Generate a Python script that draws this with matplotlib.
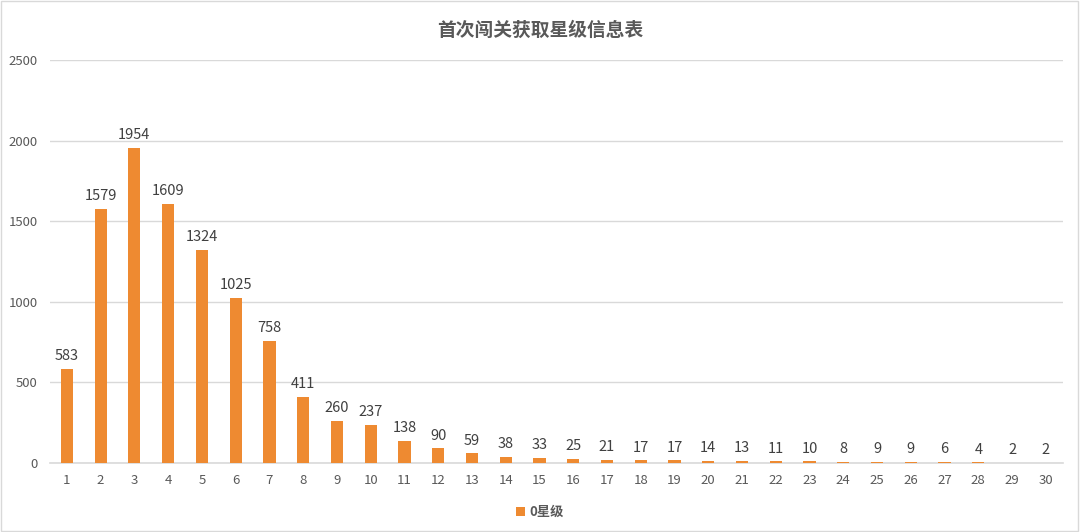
import matplotlib.pyplot as plt
import numpy as np

plt.rcParams['font.family'] = ['Noto Sans CJK SC', 'DejaVu Sans']

levels = [str(i) for i in range(1, 31)]
counts = [583, 1579, 1954, 1609, 1324, 1025, 758, 411, 260, 237, 138, 90, 59, 38, 33,
          25, 21, 17, 17, 14, 13, 11, 10, 8, 9, 9, 6, 4, 2, 2]
series_name = '0星级'
title = '首次闯关获取星级信息表'

fig = plt.figure(figsize=(10.8, 5.32), dpi=100)
ax = fig.add_axes([0.0463, 0.1297, 0.9377, 0.7573])

x = np.arange(len(levels))
bars = ax.bar(x, counts, width=0.36, color='#EE8A31', label=series_name, zorder=3)

for xi, v in zip(x, counts):
    ax.text(xi, v + 35, str(v), ha='center', va='bottom', fontsize=10.5, color='#404040')

ax.set_xlim(-0.5, len(levels) - 0.5)
ax.set_ylim(0, 2500)
ax.set_yticks(range(0, 2501, 500))
ax.set_xticks(x)
ax.set_xticklabels(levels)
ax.tick_params(axis='both', length=0, labelsize=9.5, colors='#595959')
ax.tick_params(axis='x', pad=8)
ax.tick_params(axis='y', pad=9)
ax.yaxis.grid(True, color='#D9D9D9', linewidth=1, zorder=0)
for s in ['top', 'right', 'left']:
    ax.spines[s].set_visible(False)
ax.spines['bottom'].set_color('#D9D9D9')
ax.spines['bottom'].set_linewidth(1.2)

fig.text(0.5, 0.943, title, ha='center', va='center', fontsize=13.5,
         fontweight='bold', color='#595959')

leg = fig.legend(handles=[bars], labels=[series_name], loc='center',
                 bbox_to_anchor=(0.5, 0.038), frameon=False, fontsize=9.5,
                 handlelength=0.7, handleheight=0.7, handletextpad=0.3)
for t in leg.get_texts():
    t.set_color('#595959')
    t.set_fontweight('bold')

fig.add_artist(plt.Rectangle((0.001, 0.001), 0.997, 0.997, transform=fig.transFigure,
                             fill=False, edgecolor='#D9D9D9', linewidth=1))

fig.savefig('out.png', dpi=100)
